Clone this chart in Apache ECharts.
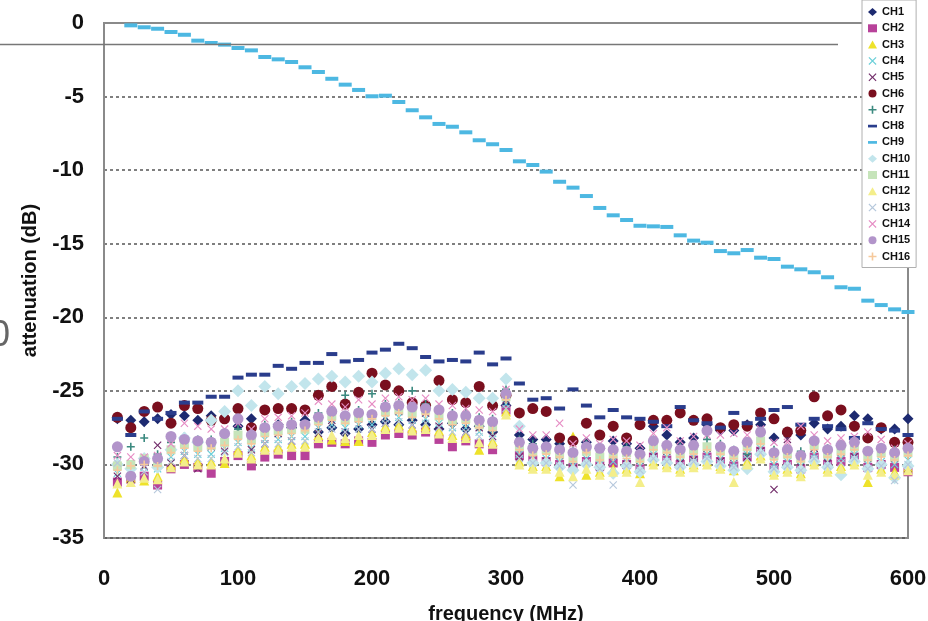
<!DOCTYPE html>
<html>
  <head>
    <meta charset="utf-8" />
    <title>attenuation</title>
    <script src="https://cdn.jsdelivr.net/npm/echarts/dist/echarts.min.js"></script>
    <style>
      body { margin: 0; background: #fff; }
    </style>
  </head>
  <body>
    <div id="main" style="width: 928px; height: 621px;"></div>
    <script type="text/javascript">
      var freqs = [10, 20, 30, 40, 50, 60, 70, 80, 90, 100,
        110, 120, 130, 140, 150, 160, 170, 180, 190, 200,
        210, 220, 230, 240, 250, 260, 270, 280, 290, 300,
        310, 320, 330, 340, 350, 360, 370, 380, 390, 400,
        410, 420, 430, 440, 450, 460, 470, 480, 490, 500,
        510, 520, 530, 540, 550, 560, 570, 580, 590, 600];

      var yTicks = [0, -5, -10, -15, -20, -25, -30, -35];
      var xTicks = [0, 100, 200, 300, 400, 500, 600];

      var ch1 = [-26.9, -27.0, -27.1, -26.9, -26.6, -26.7, -27.0, -26.7, -26.8, -27.4,
        -26.9, -27.6, -27.3, -27.5, -27.0, -27.8, -27.5, -27.9, -27.6, -27.3,
        -27.1, -27.3, -27.0, -27.3, -27.6, -27.2, -27.6, -27.4, -27.8, -26.0,
        -28.0, -28.3, -28.3, -28.6, -28.4, -28.5, -28.9, -28.4, -28.6, -28.9,
        -27.4, -28.0, -28.5, -28.2, -27.3, -27.7, -27.7, -27.3, -27.3, -28.2,
        -27.9, -28.0, -27.2, -27.6, -27.4, -26.7, -26.9, -27.6, -27.6, -26.9];
      var ch2 = [-31.2, -31.0, -30.8, -31.4, -30.3, -30.0, -30.2, -30.6, -29.8, -29.4,
        -30.1, -29.5, -29.3, -29.4, -29.4, -28.6, -28.5, -28.6, -28.4, -28.5,
        -28.0, -27.9, -28.0, -27.8, -28.3, -28.8, -28.4, -28.6, -29.0, -26.3,
        -29.4, -29.7, -29.8, -30.0, -30.2, -29.8, -30.1, -29.9, -30.0, -30.3,
        -29.5, -29.7, -30.0, -29.7, -29.5, -29.8, -30.1, -29.5, -29.1, -30.2,
        -30.0, -30.3, -29.5, -30.0, -29.8, -29.5, -30.2, -30.0, -30.2, -30.5];
      var ch3 = [-31.9, -30.9, -31.1, -30.8, -30.0, -29.6, -29.8, -29.8, -29.9, -29.0,
        -29.4, -28.8, -28.8, -28.6, -28.6, -28.0, -28.3, -28.4, -28.4, -27.8,
        -27.4, -27.3, -27.5, -27.4, -27.7, -28.0, -28.0, -29.0, -28.4, -26.4,
        -29.8, -30.1, -30.1, -30.8, -28.1, -30.7, -30.5, -30.3, -30.3, -30.6,
        -29.8, -30.0, -30.3, -30.0, -29.8, -30.1, -30.4, -29.8, -29.4, -30.5,
        -30.3, -30.6, -29.8, -30.3, -30.1, -29.8, -31.2, -30.3, -30.5, -30.2];
      var ch4 = [-30.6, -30.5, -30.2, -30.3, -29.5, -29.1, -29.3, -29.3, -28.9, -28.5,
        -28.9, -28.3, -28.3, -28.1, -28.1, -27.5, -27.3, -27.5, -27.3, -27.3,
        -26.9, -26.8, -27.0, -26.9, -27.2, -27.5, -27.5, -27.8, -27.9, -25.9,
        -29.3, -29.6, -29.6, -29.8, -30.1, -29.6, -30.0, -29.8, -29.8, -30.1,
        -29.3, -29.5, -29.8, -29.5, -29.3, -29.6, -29.9, -29.3, -28.9, -30.0,
        -29.8, -30.1, -29.3, -29.8, -29.6, -29.3, -30.0, -29.8, -30.0, -29.7];
      var ch5 = [-30.8, -31.0, -30.1, -28.7, -29.9, -29.4, -30.3, -28.8, -29.1, -28.0,
        -29.0, -28.6, -27.9, -28.4, -27.6, -27.9, -27.0, -27.8, -26.9, -27.6,
        -27.2, -26.4, -27.3, -26.5, -27.4, -27.1, -27.8, -27.5, -28.1, -25.6,
        -29.5, -29.2, -29.8, -29.4, -30.3, -29.1, -30.2, -29.4, -30.0, -29.7,
        -29.5, -29.1, -29.9, -29.7, -28.9, -29.8, -29.5, -29.5, -29.1, -31.7,
        -28.3, -30.2, -28.9, -29.9, -29.2, -29.5, -29.6, -30.0, -29.6, -30.3];
      var ch6 = [-26.8, -27.5, -26.4, -26.1, -27.2, -26.0, -26.2, -27.0, -26.9, -26.2,
        -27.5, -26.3, -26.2, -26.2, -26.3, -25.3, -24.7, -25.9, -25.1, -23.8,
        -24.6, -25.0, -25.8, -26.0, -24.3, -25.6, -25.8, -24.7, -26.0, -25.3,
        -26.5, -26.2, -26.4, -28.2, -28.4, -27.2, -28.0, -27.4, -28.2, -27.3,
        -27.0, -27.0, -26.5, -27.0, -26.9, -27.5, -27.3, -27.4, -26.5, -26.9,
        -27.8, -27.7, -25.4, -26.7, -26.3, -27.4, -28.2, -27.5, -28.5, -28.5];
      var ch7 = [-29.5, -28.8, -28.2, -29.3, -28.5, -28.1, -28.3, -28.3, -27.9, -27.6,
        -27.9, -27.3, -27.4, -27.1, -27.2, -26.5, -26.3, -25.3, -26.3, -25.2,
        -25.9, -25.8, -25.0, -25.9, -26.2, -26.5, -26.5, -26.8, -26.9, -24.9,
        -28.3, -28.6, -28.7, -28.8, -29.1, -28.6, -29.0, -28.9, -28.8, -29.2,
        -28.3, -28.6, -28.8, -28.6, -28.3, -28.6, -29.0, -29.3, -28.0, -29.0,
        -28.9, -29.1, -28.4, -28.9, -28.6, -28.3, -29.1, -28.9, -29.0, -28.8];
      var ch8 = [-26.9, -28.0, -26.4, -26.9, -26.5, -25.8, -25.8, -25.4, -25.4, -24.1,
        -23.9, -23.9, -23.3, -23.5, -23.1, -23.1, -22.5, -23.0, -22.9, -22.4,
        -22.2, -21.8, -22.1, -22.7, -23.0, -22.9, -23.0, -22.4, -23.2, -22.8,
        -24.5, -25.6, -25.5, -26.2, -24.9, -26.0, -26.8, -26.3, -26.8, -26.9,
        -27.1, -27.4, -26.1, -27.0, -27.2, -27.5, -26.5, -27.2, -26.9, -26.3,
        -26.1, -27.3, -26.9, -27.4, -27.6, -28.2, -27.2, -27.6, -27.7, -28.0];
      var ch9 = [null, -0.16, -0.29, -0.39, -0.61, -0.80, -1.20, -1.36, -1.47, -1.70,
        -1.86, -2.31, -2.47, -2.65, -3.01, -3.33, -3.79, -4.19, -4.55, -4.98,
        -4.94, -5.37, -5.93, -6.41, -6.86, -7.05, -7.43, -7.97, -8.24, -8.63,
        -9.40, -9.65, -10.1, -10.79, -11.19, -11.76, -12.57, -13.07, -13.39, -13.78,
        -13.82, -13.86, -14.43, -14.79, -14.93, -15.50, -15.65, -15.43, -15.95, -16.04,
        -16.56, -16.74, -16.94, -17.28, -17.96, -18.06, -18.87, -19.17, -19.46, -19.64];
      var ch10 = [-30.0, -30.3, -29.6, -30.2, -29.0, -28.2, -28.5, -27.0, -26.4, -25.0,
        -26.0, -24.7, -25.2, -24.7, -24.5, -24.2, -24.0, -24.4, -24.0, -24.4,
        -23.8, -23.5, -23.9, -23.6, -25.0, -24.9, -25.1, -25.5, -25.5, -24.2,
        -27.4, -29.9, -29.9, -30.2, -30.4, -30.0, -30.2, -30.6, -30.1, -30.5,
        -29.7, -29.9, -30.2, -30.0, -29.8, -30.1, -30.4, -30.3, -29.3, -30.5,
        -30.2, -30.4, -29.8, -30.2, -30.7, -29.8, -30.3, -30.0, -30.9, -30.1];
      var ch11 = [-30.1, -30.0, -29.6, -29.9, -29.0, -28.6, -28.8, -28.7, -28.5, -28.0,
        -28.3, -27.8, -27.7, -27.6, -27.6, -27.0, -26.7, -27.0, -26.8, -26.7,
        -26.4, -26.3, -26.5, -26.3, -26.7, -27.0, -26.9, -27.3, -27.4, -25.4,
        -28.8, -29.1, -29.0, -29.3, -29.6, -29.1, -29.5, -29.3, -29.2, -29.6,
        -28.8, -29.0, -29.3, -29.0, -28.8, -29.1, -29.4, -28.8, -28.4, -29.4,
        -29.3, -29.6, -28.7, -29.3, -29.1, -28.8, -29.5, -29.2, -29.5, -29.2];
      var ch12 = [-31.3, -31.2, -30.9, -31.0, -30.2, -29.8, -30.0, -30.0, -29.6, -29.2,
        -29.6, -29.0, -29.0, -28.8, -28.8, -28.2, -28.0, -28.2, -28.0, -28.0,
        -27.6, -27.5, -27.7, -27.6, -27.9, -28.2, -28.2, -28.5, -28.6, -26.6,
        -30.0, -30.3, -30.3, -30.5, -30.8, -30.3, -30.7, -30.5, -30.5, -31.2,
        -30.0, -30.2, -30.5, -30.2, -30.0, -30.3, -31.2, -30.0, -29.6, -30.7,
        -30.5, -30.8, -30.0, -30.5, -30.3, -30.0, -30.7, -30.5, -30.7, -30.4];
      var ch13 = [-29.9, -30.8, -30.5, -31.7, -29.8, -29.4, -29.6, -29.6, -29.2, -28.8,
        -29.2, -28.6, -28.6, -28.4, -28.4, -27.8, -27.6, -27.8, -27.6, -27.6,
        -27.2, -27.1, -27.3, -27.2, -27.5, -27.8, -27.8, -28.1, -28.2, -26.2,
        -29.6, -29.9, -29.9, -30.1, -31.4, -29.9, -30.3, -31.4, -30.1, -30.4,
        -29.6, -29.8, -30.1, -29.8, -29.6, -29.9, -30.2, -29.6, -29.2, -30.3,
        -30.1, -30.4, -29.6, -30.1, -29.9, -29.6, -30.3, -30.1, -31.1, -30.0];
      var ch14 = [-29.4, -29.5, -29.5, -29.4, -28.6, -27.2, -27.4, -27.6, -27.6, -27.2,
        -27.6, -26.9, -26.8, -26.7, -26.5, -25.7, -25.9, -26.1, -25.6, -25.9,
        -25.5, -25.4, -25.6, -25.5, -25.9, -26.0, -26.2, -26.3, -26.4, -24.9,
        -27.6, -28.0, -28.0, -27.2, -28.6, -28.2, -28.6, -28.3, -28.4, -28.7,
        -27.9, -27.5, -28.4, -28.1, -28.0, -28.0, -27.9, -28.0, -27.6, -28.5,
        -28.5, -27.4, -28.0, -28.4, -28.2, -28.1, -27.8, -28.3, -28.9, -28.6];
      var ch15 = [-28.8, -30.8, -29.8, -29.6, -28.1, -28.3, -28.4, -28.5, -27.9, -26.9,
        -28.0, -27.5, -27.4, -27.3, -27.3, -26.8, -26.4, -26.7, -26.5, -26.6,
        -26.1, -26.0, -26.1, -26.2, -26.3, -26.7, -26.7, -27.0, -27.1, -25.2,
        -28.5, -28.9, -28.8, -29.0, -29.2, -28.8, -28.9, -29.0, -29.1, -29.3,
        -28.4, -28.7, -29.0, -28.7, -27.7, -28.8, -29.1, -28.5, -27.8, -29.2,
        -29.0, -29.4, -28.4, -29.0, -28.7, -28.5, -29.1, -28.9, -29.2, -28.9];
      var ch16 = [-30.4, -30.1, -30.0, -30.1, -29.2, -28.9, -29.1, -28.9, -28.7, -28.3,
        -28.6, -28.1, -28.0, -27.9, -27.7, -27.3, -27.0, -27.2, -27.1, -26.9,
        -26.7, -26.5, -26.8, -26.6, -26.9, -27.3, -27.2, -27.5, -27.7, -25.6,
        -29.0, -29.4, -29.3, -29.5, -29.8, -29.2, -29.7, -29.5, -29.6, -29.8,
        -29.0, -29.2, -29.5, -29.3, -29.0, -29.3, -29.6, -29.0, -28.6, -29.7,
        -29.5, -29.8, -29.0, -29.5, -29.3, -29.0, -29.7, -29.5, -29.7, -29.4];

      var X_PATH = 'path://M1,0L5,4L9,0L10,1L6,5L10,9L9,10L5,6L1,10L0,9L4,5L0,1Z';
      var PLUS_PATH = 'path://M4,0H6V4H10V6H6V10H4V6H0V4H4Z';
      var DASH_PATH = 'path://M0,0H10V3H0Z';

      // name, values, symbol, size, colour
      var channels = [
        ['CH1', ch1, 'diamond', 11, '#1d2a70'],
        ['CH2', ch2, 'rect', 9, '#b8429a'],
        ['CH3', ch3, 'triangle', 10, '#eee22a'],
        ['CH4', ch4, X_PATH, 8, '#69cfd8'],
        ['CH5', ch5, X_PATH, 8, '#702a68'],
        ['CH6', ch6, 'circle', 11, '#7a0f1e'],
        ['CH7', ch7, PLUS_PATH, 8, '#3c8a80'],
        ['CH8', ch8, 'rect', [11, 4], '#2a3d8c'],
        ['CH9', ch9, 'rect', [13, 4], '#4db8e2'],
        ['CH10', ch10, 'diamond', 13, '#c2e5ec'],
        ['CH11', ch11, 'rect', 9, '#c6e4ba'],
        ['CH12', ch12, 'triangle', 10, '#f4ee8a'],
        ['CH13', ch13, X_PATH, 8, '#b6c8dc'],
        ['CH14', ch14, X_PATH, 8, '#e68cc4'],
        ['CH15', ch15, 'circle', 11, '#b294ca'],
        ['CH16', ch16, PLUS_PATH, 8, '#f6c99c']
      ];

      var series = channels.map(function (c) {
        var pts = [];
        freqs.forEach(function (f, i) {
          if (c[1][i] != null) pts.push([f, c[1][i]]);
        });
        return {
          name: c[0],
          type: 'scatter',
          data: pts,
          symbol: c[2],
          symbolSize: c[3],
          itemStyle: { color: c[4], opacity: 1 },
          emphasis: { disabled: true }
        };
      });

      var legendData = channels.map(function (c) {
        var icon = c[2];
        if (c[0] === 'CH8' || c[0] === 'CH9') icon = DASH_PATH;
        return { name: c[0], icon: icon };
      });

      var myChart = echarts.init(document.getElementById('main'));
      var font = '"Liberation Sans", Arial, sans-serif';

      var option = {
        animation: false,
        backgroundColor: '#fff',
        textStyle: { fontFamily: font },
        grid: {
          left: 104,
          right: 20,
          top: 23,
          bottom: 83,
          outerBoundsMode: 'none',
          show: true,
          borderColor: '#8a8a8a',
          borderWidth: 2
        },
        legend: {
          orient: 'vertical',
          left: 862,
          top: 0,
          padding: [6, 6, 5, 6],
          itemWidth: 9,
          itemHeight: 8,
          itemGap: 4.3,
          backgroundColor: '#fff',
          borderColor: '#b0b0b0',
          borderWidth: 1,
          textStyle: { fontSize: 11, fontWeight: 'bold', color: '#111', fontFamily: font, lineHeight: 12 },
          data: legendData
        },
        xAxis: {
          type: 'value',
          min: xTicks[0],
          max: xTicks[xTicks.length - 1],
          interval: 100,
          name: 'frequency (MHz)',
          nameLocation: 'middle',
          nameGap: 66,
          nameTextStyle: { fontSize: 20, fontWeight: 'bold', color: '#111', fontFamily: font },
          axisLine: { show: true, lineStyle: { color: '#8a8a8a', width: 2 } },
          axisTick: { show: false },
          splitLine: { show: false },
          axisLabel: { margin: 30, fontSize: 22, fontWeight: 'bold', color: '#111', fontFamily: font }
        },
        yAxis: {
          type: 'value',
          min: yTicks[yTicks.length - 1],
          max: yTicks[0],
          interval: 5,
          name: 'attenuation (dB)',
          nameLocation: 'middle',
          nameGap: 64,
          nameTextStyle: { fontSize: 20, fontWeight: 'bold', color: '#111', fontFamily: font },
          axisLine: { show: true, lineStyle: { color: '#8a8a8a', width: 2 } },
          axisTick: { show: false },
          splitLine: { show: true, lineStyle: { color: '#555', width: 1.5, type: [3, 3] } },
          axisLabel: { margin: 20, fontSize: 22, fontWeight: 'bold', color: '#111', fontFamily: font }
        },
        graphic: [
          {
            type: 'line',
            shape: { x1: 0, y1: 44.5, x2: 838, y2: 44.5 },
            style: { stroke: '#777', lineWidth: 1.5 },
            z: 5
          },
          {
            type: 'text',
            left: -10,
            top: 318,
            style: { text: '0', fontSize: 36, fill: '#666', fontFamily: font }
          }
        ],
        series: series
      };

      myChart.setOption(option);
    </script>
  </body>
</html>
